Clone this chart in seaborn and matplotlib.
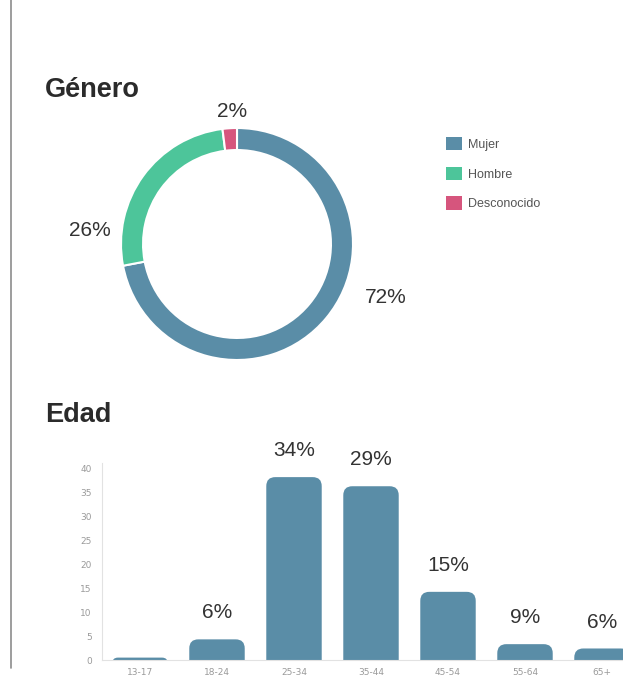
import matplotlib
matplotlib.use("Agg")
import matplotlib.pyplot as plt
from matplotlib.patches import FancyBboxPatch, Patch
from matplotlib.lines import Line2D
import seaborn as sns
import pandas as pd

# ---- data ----
gender_labels = ["Mujer", "Hombre", "Desconocido"]
gender_values = [72, 26, 2]
gender_pct_text = ["72%", "26%", "2%"]

age_groups = ["13-17", "18-24", "25-34", "35-44", "45-54", "55-64", "65+"]
age_values = [0.5, 4.3, 38.1, 36.2, 14.2, 3.3, 2.4]
age_pct_text = ["", "6%", "34%", "29%", "15%", "9%", "6%"]
y_ticks = [0, 5, 10, 15, 20, 25, 30, 35, 40]

# ---- style ----
sns.set_style("white")
plt.rcParams["font.family"] = ["Liberation Sans", "DejaVu Sans"]

BLUE = "#5A8DA7"
GREEN = "#4DC59A"
PINK = "#D6557D"
gender_colors = [BLUE, GREEN, PINK]
TXT = "#333333"
GRAY = "#9a9a9a"

W, H = 623, 677
fig = plt.figure(figsize=(W / 100, H / 100), dpi=100)

def fx(px):
    return px / W

def fy(py):
    return 1 - py / H

# left vertical rule
fig.add_artist(Line2D([fx(10.5), fx(10.5)], [1.0, fy(668)], color="#8c8c8c", lw=1.2))

# titles
fig.text(fx(45), fy(97), "Género", fontsize=19.5, fontweight="bold", color="#2b2b2b", ha="left", va="baseline")
fig.text(fx(45), fy(422), "Edad", fontsize=19.5, fontweight="bold", color="#2b2b2b", ha="left", va="baseline")

# ---- donut ----
cx, cy, r = 237, 244, 116
ax_pie = fig.add_axes([fx(cx - r), fy(cy + r), (2 * r) / W, (2 * r) / H])
wedges, _ = ax_pie.pie(
    gender_values, colors=gender_colors, startangle=90, counterclock=False,
    radius=1.0, wedgeprops=dict(width=0.19, edgecolor="white", linewidth=1.5),
)
ax_pie.set_xlim(-1, 1)
ax_pie.set_ylim(-1, 1)
ax_pie.set_aspect("equal")
ax_pie.axis("off")

# label placement (layout, in donut-radius units)
label_pos = [(1.28, -0.46), (-1.27, 0.12), (-0.04, 1.14)]
for (lx, ly), t in zip(label_pos, gender_pct_text):
    ax_pie.text(lx, ly, t, fontsize=15, color=TXT, ha="center", va="center", clip_on=False)

handles = [Patch(facecolor=c, edgecolor="none") for c in gender_colors]
fig.legend(handles, gender_labels, loc="upper left", bbox_to_anchor=(fx(446), fy(137)),
           frameon=False, fontsize=9, labelcolor="#555555", handlelength=1.25, handleheight=1.25,
           labelspacing=1.27, handletextpad=0.5, borderaxespad=0, borderpad=0)

# ---- bars ----
ymax = 41
ax = fig.add_axes([fx(101.5), fy(660), (7 * 77) / W, (ymax * 4.8) / H])
df = pd.DataFrame({"edad": age_groups, "valor": age_values})
sns.barplot(data=df, x="edad", y="valor", color=BLUE, saturation=1, width=0.72, ax=ax)
ax.set_ylim(0, ymax)
ax.set_xlim(-0.5, len(age_groups) - 0.5)

# rounded-top bars
fig.canvas.draw()
px_per_x = ax.get_window_extent().width / (ax.get_xlim()[1] - ax.get_xlim()[0])
px_per_y = ax.get_window_extent().height / (ax.get_ylim()[1] - ax.get_ylim()[0])
aspect = px_per_x / px_per_y
rad_px = 9
for p in list(ax.patches):
    x0, w, h = p.get_x(), p.get_width(), p.get_height()
    ext = rad_px / px_per_y
    tot = h + ext
    rs = min(rad_px / px_per_x, (tot / 2) / aspect, w / 2)
    fb = FancyBboxPatch((x0, -ext), w, tot, boxstyle=f"round,pad=0,rounding_size={rs}",
                        mutation_aspect=aspect, facecolor=BLUE, edgecolor="none", clip_on=True)
    ax.add_patch(fb)
    p.remove()

for i, (v, t) in enumerate(zip(age_values, age_pct_text)):
    if t:
        ax.annotate(t, (i, v), xytext=(0, 19), textcoords="offset points",
                    ha="center", va="center", fontsize=15, color=TXT, annotation_clip=False)

ax.set_xlabel("")
ax.set_ylabel("")
ax.set_yticks(y_ticks)
for s in ["top", "right"]:
    ax.spines[s].set_visible(False)
for s in ["left", "bottom"]:
    ax.spines[s].set_color("#e2e2e2")
    ax.spines[s].set_linewidth(0.8)
ax.tick_params(axis="y", labelsize=6.5, colors="#e2e2e2", labelcolor=GRAY, length=3, pad=4, width=0.8)
ax.tick_params(axis="x", labelsize=6.5, labelcolor=GRAY, length=0, pad=6)
for lab in ax.get_xticklabels() + ax.get_yticklabels():
    lab.set_fontfamily("DejaVu Sans")
ax.set_xticks([i + 0.5 for i in range(-1, len(age_groups))], minor=True)
ax.tick_params(axis="x", which="minor", length=7, color="#e2e2e2", width=0.8)

fig.savefig("out.png", dpi=100)
